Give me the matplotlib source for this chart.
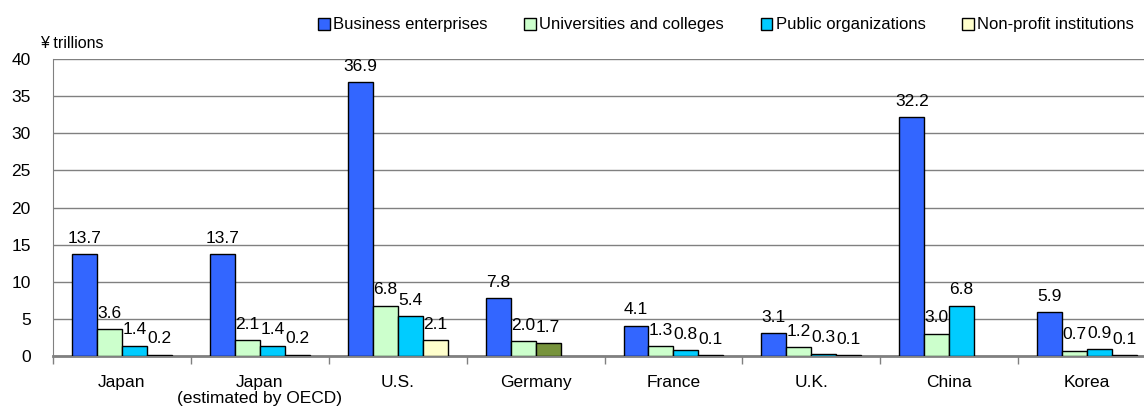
import matplotlib.pyplot as plt
import numpy as np
from matplotlib.patches import Patch

plt.rcParams['font.family'] = ['Liberation Sans', 'DejaVu Sans']

countries = ['Japan', 'Japan\n(estimated by OECD)', 'U.S.', 'Germany',
             'France', 'U.K.', 'China', 'Korea']
business = [13.7, 13.7, 36.9, 7.8, 4.1, 3.1, 32.2, 5.9]
universities = [3.6, 2.1, 6.8, 2.0, 1.3, 1.2, 3.0, 0.7]
public = [1.4, 1.4, 5.4, 1.7, 0.8, 0.3, 6.8, 0.9]
nonprofit = [0.2, 0.2, 2.1, np.nan, 0.1, 0.1, np.nan, 0.1]

series = [
    ('Business enterprises', business, '#3366FF'),
    ('Universities and colleges', universities, '#CCFFCC'),
    ('Public organizations', public, '#00CCFF'),
    ('Non-profit institutions', nonprofit, '#FFFFCC'),
]

fig = plt.figure(figsize=(11.44, 4.16), dpi=100)
# axis extends beyond the right edge, like the original clipped chart
ax = fig.add_axes([53 / 1144, 60 / 416, 1103 / 1144, 297 / 416])

x = np.arange(len(countries)) + 0.5
w = 0.181

for i, (name, vals, col) in enumerate(series):
    vals = np.array(vals, dtype=float)
    pos = x + (i - 1.5) * w
    colors = [col] * len(vals)
    if i == 2:
        colors[3] = '#77933C'  # Germany shown in olive
    mask = ~np.isnan(vals)
    ax.bar(pos[mask], vals[mask], width=w, color=np.array(colors)[mask],
           edgecolor='black', linewidth=1, zorder=3)
    for px, v in zip(pos[mask], vals[mask]):
        ax.annotate(f'{v:.1f}', (px, v), xytext=(0, 6), textcoords='offset points',
                    ha='center', va='bottom', fontsize=12.5)

ax.set_xlim(0, 8)
ax.set_ylim(0, 40)
ax.set_yticks(range(0, 41, 5))
ax.yaxis.grid(True, color='#808080', linewidth=1)
ax.set_axisbelow(True)

ax.set_xticks(np.arange(0, 9))
ax.set_xticklabels([])
ax.set_xticks(x, minor=True)
ax.set_xticklabels(countries, minor=True, fontsize=12.5, linespacing=1.05)
ax.tick_params(axis='x', which='minor', length=0, pad=14)
ax.tick_params(axis='x', which='major', length=6, color='#808080', width=1)
ax.tick_params(axis='y', length=0, labelsize=12.5, pad=16)

for s in ['top', 'right']:
    ax.spines[s].set_visible(False)
ax.spines['left'].set_color('#808080')
ax.spines['bottom'].set_color('#808080')
ax.spines['bottom'].set_linewidth(2)

fig.text(40 / 1144, 1 - 43 / 416, '¥ trillions', fontsize=11.5, va='center')

handles = [Patch(facecolor=c, edgecolor='black', linewidth=1) for _, _, c in series]
fig.legend(handles, [s[0] for s in series], loc='center right',
           bbox_to_anchor=(1134 / 1144, 1 - 25 / 416), ncol=4, frameon=False,
           fontsize=12, handlelength=0.7, handleheight=0.7, handletextpad=0.2,
           columnspacing=2.2, borderaxespad=0, borderpad=0)

fig.savefig('out.png', dpi=100)
